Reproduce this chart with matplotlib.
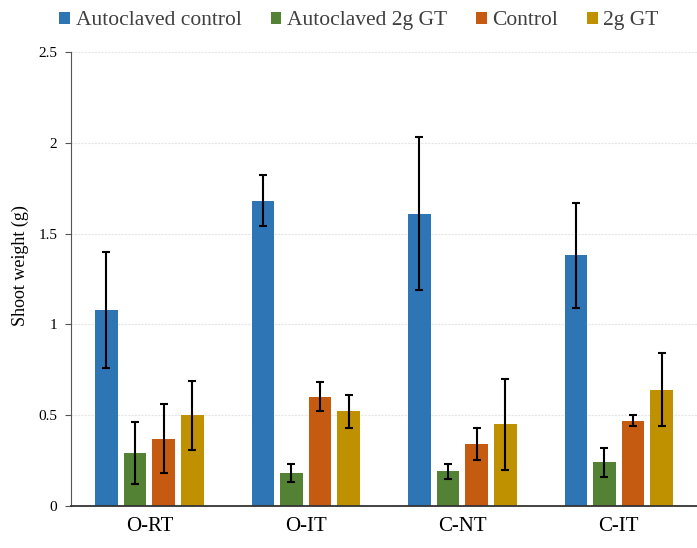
import numpy as np
import matplotlib
matplotlib.use("Agg")
import matplotlib.pyplot as plt

plt.rcParams["font.family"] = ["Liberation Serif", "DejaVu Serif"]

sites = ["O-RT", "O-IT", "C-NT", "C-IT"]
series = ["Autoclaved control", "Autoclaved 2g GT", "Control", "2g GT"]
colors = ["#2E75B6", "#548235", "#C55A11", "#BF9000"]

autoclaved_control = [1.08, 1.68, 1.61, 1.38]
autoclaved_control_err = [0.32, 0.14, 0.42, 0.29]
autoclaved_gt = [0.29, 0.18, 0.19, 0.24]
autoclaved_gt_err = [0.17, 0.05, 0.04, 0.08]
control = [0.37, 0.60, 0.34, 0.47]
control_err = [0.19, 0.08, 0.09, 0.03]
gt_2g = [0.50, 0.52, 0.45, 0.64]
gt_2g_err = [0.19, 0.09, 0.25, 0.20]

values = [autoclaved_control, autoclaved_gt, control, gt_2g]
errors = [autoclaved_control_err, autoclaved_gt_err, control_err, gt_2g_err]

fig = plt.figure(figsize=(6.97, 5.48), dpi=100)
ax = fig.add_axes([0.102, 0.077, 0.898, 0.828])

x = np.arange(len(sites))
width = 0.144
step = 0.183
for i, (vals, errs, lab, col) in enumerate(zip(values, errors, series, colors)):
    off = (i - 1.5) * step
    ax.bar(x + off, vals, width, color=col, label=lab, zorder=2)
    ax.errorbar(x + off, vals, yerr=errs, fmt="none", ecolor="black",
                elinewidth=1.5, capsize=3, capthick=1.5, zorder=3)

ax.set_xlim(-0.5, 3.5)
ax.set_ylim(0, 2.5)
ax.set_yticks([0, 0.5, 1, 1.5, 2, 2.5])
ax.set_yticklabels(["0", "0.5", "1", "1.5", "2", "2.5"])
ax.set_xticks(x)
ax.set_xticklabels(sites, fontsize=15)
ax.tick_params(axis="x", length=0, pad=8)
ax.tick_params(axis="y", labelsize=11, length=4, pad=6, color="#555555")
ax.yaxis.grid(True, color="#e6e6e6", linestyle=(0, (2, 1)), linewidth=0.8, zorder=0)
ax.set_ylabel("Shoot weight (g)", fontsize=13)
ax.yaxis.set_label_coords(-0.068, 0.53)

for s in ["top", "right"]:
    ax.spines[s].set_visible(False)
ax.spines["left"].set_color("#555555")
ax.spines["bottom"].set_color("#333333")
ax.spines["bottom"].set_linewidth(1.3)

leg = fig.legend(*ax.get_legend_handles_labels(), loc="center",
                 bbox_to_anchor=(0.515, 0.962), ncol=4, frameon=False,
                 fontsize=15.5, handlelength=0.5, handleheight=0.5,
                 handletextpad=0.25, columnspacing=1.35)
for t in leg.get_texts():
    t.set_color("#404040")

fig.savefig("out.png", dpi=100)
